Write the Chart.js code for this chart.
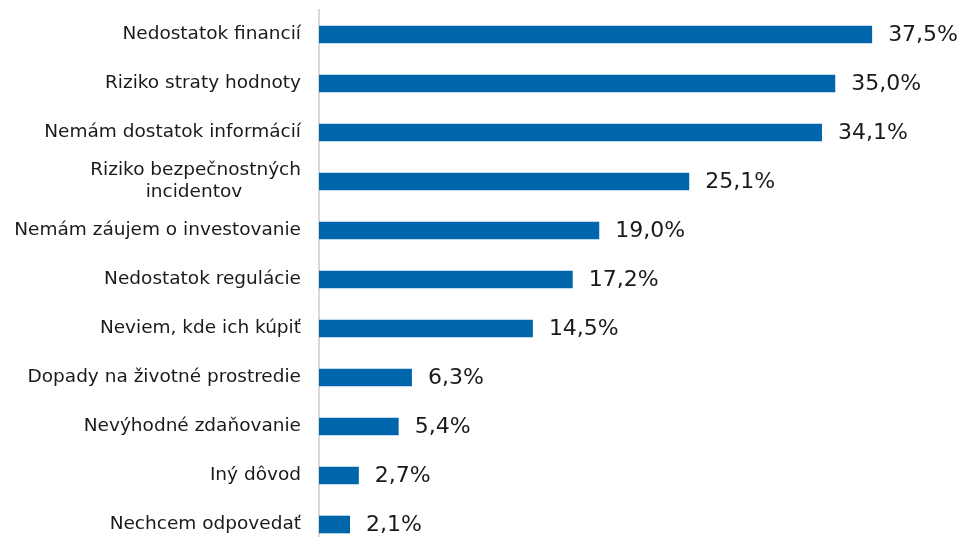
<!DOCTYPE html>
<html lang="sk">
<head>
<meta charset="utf-8">
<title>Dôvody neinvestovania</title>
<script src="https://cdn.jsdelivr.net/npm/chart.js@4.4.1/dist/chart.umd.min.js"></script>
<style>
  html, body { margin: 0; padding: 0; background: #fff; overflow: hidden; }
  #wrap { position: relative; width: 960px; height: 549px; }
</style>
</head>
<body>
<div id="wrap"><canvas id="barChart"></canvas></div>
<script>
// kategórie a hodnoty (%)
var categories = [
    'Nedostatok financií',
    'Riziko straty hodnoty',
    'Nemám dostatok informácií',
    ['Riziko bezpečnostných', 'incidentov'],
    'Nemám záujem o investovanie',
    'Nedostatok regulácie',
    'Neviem, kde ich kúpiť',
    'Dopady na životné prostredie',
    'Nevýhodné zdaňovanie',
    'Iný dôvod',
    'Nechcem odpovedať'
];
var values = [37.5, 35.0, 34.1, 25.1, 19.0, 17.2, 14.5, 6.3, 5.4, 2.7, 2.1];
var valueLabels = values.map(function (v) { return v.toFixed(1).replace('.', ',') + '%'; });

var barColor = '#0066ab';
var textColor = '#1a1a1a';
var labelFont = '18.5px "DejaVu Sans"';

// viacriadkové popisky: kratšie riadky doplniť medzerami, aby boli centrované pod najdlhším
var measureCtx = document.createElement('canvas').getContext('2d');
measureCtx.font = labelFont;
function centerLines(lines) {
    if (!Array.isArray(lines)) return lines;
    var widest = Math.max.apply(null, lines.map(function (l) { return measureCtx.measureText(l).width; }));
    var sp = measureCtx.measureText('\u00a0').width;
    return lines.map(function (l) {
        var n = Math.round((widest - measureCtx.measureText(l).width) / 2 / sp);
        return l + '\u00a0'.repeat(n);
    });
}

// popisky hodnôt za koncom stĺpca
var valueLabelPlugin = {
    id: 'valueLabels',
    afterDatasetsDraw: function (chart) {
        var ctx = chart.ctx;
        var meta = chart.getDatasetMeta(0);
        ctx.save();
        ctx.font = '22px "DejaVu Sans"';
        ctx.fillStyle = textColor;
        ctx.textAlign = 'left';
        ctx.textBaseline = 'middle';
        meta.data.forEach(function (bar, i) {
            ctx.fillText(valueLabels[i], bar.x + 16, bar.y + 1);
        });
        ctx.restore();
    }
};

var ctx = document.getElementById('barChart').getContext('2d');
var barChart = new Chart(ctx, {
    type: 'bar',
    data: {
        labels: categories,
        datasets: [{
            data: values,
            backgroundColor: barColor,
            borderWidth: 0,
            categoryPercentage: 1,
            barPercentage: 0.36
        }]
    },
    options: {
        indexAxis: 'y',
        responsive: true,
        maintainAspectRatio: false,
        animation: false,
        layout: { padding: { top: 10, right: 51, bottom: 0, left: 0 } },
        plugins: {
            legend: { display: false },
            tooltip: { enabled: false }
        },
        scales: {
            x: {
                display: false,
                min: 0,
                max: 40
            },
            y: {
                grid: { display: false, drawTicks: false },
                border: { display: true, color: '#d9d9d9', width: 2 },
                ticks: {
                    color: textColor,
                    padding: 18,
                    font: { family: '"DejaVu Sans"', size: 18.5 },
                    callback: function (value, index) {
                        return centerLines(categories[index]);
                    }
                },
                afterFit: function (scale) {
                    // pevná šírka osi, bez extra okraja hore a dole
                    scale.width = 319;
                    scale.paddingTop = 0;
                    scale.paddingBottom = 0;
                }
            }
        }
    },
    plugins: [valueLabelPlugin]
});
</script>
</body>
</html>
